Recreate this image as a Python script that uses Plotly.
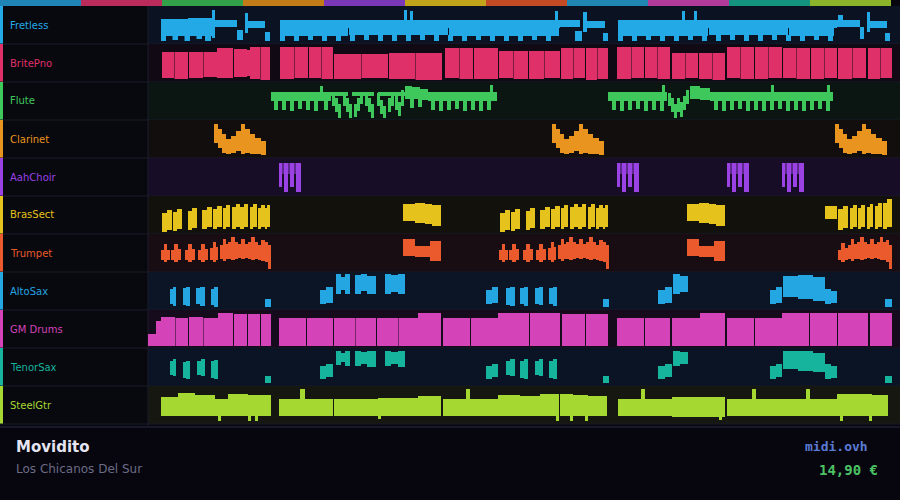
import plotly.graph_objects as go

# ---------------- data ----------------
track_names = ["Fretless", "BritePno", "Flute", "Clarinet", "AahChoir", "BrasSect",
               "Trumpet", "AltoSax", "GM Drums", "TenorSax", "SteelGtr"]
track_colors = ["#22a9e6", "#e0306a", "#3ec85c", "#e8941e", "#9a42e4", "#e6c21c",
                "#ea5a2c", "#24a6e2", "#d444b8", "#16b49c", "#a6d832"]
strip_colors = ["#1f84b6", "#bb2c5c", "#33a04a", "#c47c18", "#7a38b8", "#c2a41a",
                "#c24a24", "#2086b2", "#b23a9a", "#14947e", "#8cb42a"]
row_bg = ["#0b1322", "#110a15", "#0b1512", "#120e0e", "#170d27", "#12110c",
          "#180d13", "#0b1526", "#150b1c", "#0b1424", "#151710"]

song_title = "Movidito"
song_artist = "Los Chicanos Del Sur"
site_name = "midi.ovh"
price_text = "14,90 €"

# time axis (ticks) and per-track pitch range
time_range = [0, 752]
pitch_range = [0, 38]

# notes: (start, end, low pitch, high pitch)
fretless_notes = [
    # intro riff
    (13, 40, 17, 25), (40, 64, 17, 26), (13, 64, 8, 17),
    (13, 18, 3, 8), (24.5, 30, 4, 8), (36.5, 42, 3, 8), (48.5, 54, 5, 8), (57, 63, 3, 8),
    (64, 67, 6, 34), (67, 89, 17, 24), (89, 95, 4, 14),
    (97, 100, 11, 31), (100, 117, 16, 23), (117, 122, 3, 12),
    # verse line
    (132, 256, 16, 24), (256, 259, 16, 34), (259, 262, 16, 24), (262, 265, 16, 33),
    (265, 407, 16, 24), (407, 410, 16, 33), (410, 412, 16, 24),
    (132, 200, 8, 16), (201, 300, 9, 16), (301, 411, 8, 16),
    (132, 137, 3, 8), (146, 151, 3, 8), (160, 165, 4, 8), (174, 179, 3, 8), (188, 193, 3, 9),
    (202, 207, 3, 9), (216, 221, 4, 9), (230, 235, 3, 9), (244, 249, 3, 9), (258, 263, 3, 9),
    (272, 277, 4, 9), (286, 291, 3, 9), (300, 305, 3, 9), (314, 319, 3, 8), (328, 333, 4, 8),
    (342, 347, 3, 8), (356, 361, 3, 8), (370, 375, 3, 8), (384, 389, 4, 8), (398, 403, 3, 8),
    (412, 432, 17, 24), (427, 434, 3, 13), (435, 439, 12, 32), (439, 457, 16, 23), (455, 460, 3, 11),
    # second verse line
    (470, 534, 16, 24), (534, 537, 16, 33), (537, 546, 16, 24), (546, 549, 16, 33), (549, 689, 16, 24),
    (470, 560, 8, 16), (561, 640, 9, 16), (641, 686, 8, 16),
    (470, 475, 3, 8), (484, 489, 3, 8), (498, 503, 4, 8), (512, 517, 3, 8), (526, 531, 3, 8),
    (540, 545, 4, 8), (554, 559, 3, 8), (568, 573, 3, 9), (582, 587, 4, 9), (596, 601, 3, 9),
    (610, 615, 3, 9), (624, 629, 4, 9), (638, 643, 3, 9), (652, 657, 3, 8), (666, 671, 4, 8),
    (680, 685, 3, 8),
    # outro riff
    (689, 712, 17, 24), (690, 695, 19, 29), (712, 716, 5, 17), (719, 722, 12, 32),
    (722, 739, 16, 23), (737, 742, 3, 11),
]

britepno_notes = [
    (14, 26, 4, 30), (26.5, 40, 3, 30), (41, 55, 4, 30), (55.5, 69, 5, 30), (69, 85, 4, 34),
    (86, 99, 5, 33), (99, 102, 6, 32), (102, 112, 3, 35), (112.5, 122, 2, 35),
    (132, 146, 3, 35), (146.5, 160, 4, 35), (161, 173, 4, 35), (173.5, 185, 3, 35),
    (186, 213, 3, 28), (213.5, 240, 4, 28), (241, 267, 3, 29), (267.5, 294, 2, 29),
    (297, 311, 4, 34), (311.5, 325, 3, 34), (326, 350, 3, 34), (351, 365, 4, 31), (365.5, 380, 3, 31),
    (381, 396, 3, 31), (396.5, 412, 4, 31),
    (413, 425, 3, 34), (425.5, 437, 4, 34), (438, 449, 2, 34), (449.5, 460, 3, 34),
    (469, 483, 3, 35), (483.5, 496, 4, 35), (497, 509, 4, 35), (509.5, 522, 3, 35),
    (524, 537, 3, 29), (537.5, 550, 4, 29), (551, 564, 3, 29), (564.5, 577, 2, 29),
    (579, 592, 4, 35), (592.5, 606, 3, 35), (607, 620, 3, 35), (620.5, 634, 4, 35),
    (635, 648, 4, 34), (648.5, 662, 3, 34), (663, 676, 3, 34), (676.5, 689, 4, 34),
    (690, 704, 3, 34), (704.5, 718, 4, 34), (720, 732, 3, 34), (732.5, 744, 4, 34),
]

flute_notes = [
    (123, 183, 19, 28),
    (126, 130, 10, 19), (134, 138, 10, 19), (142, 146, 9, 19), (150, 154, 11, 19),
    (158, 162, 10, 19), (166, 170, 9, 19), (176, 180, 10, 19), (172, 175, 28, 34),
    (183, 200, 24, 28), (204, 226, 24, 28), (230, 257, 24, 28),
    (184, 187, 14, 27), (187, 190, 8, 22), (190, 193, 2, 16), (195, 198, 14, 27),
    (198, 201, 8, 22), (201, 204, 2, 16), (206, 209, 3, 16), (209, 212, 9, 22),
    (212, 215, 16, 27), (217, 220, 14, 27), (220, 223, 8, 22), (223, 226, 2, 16),
    (229, 232, 14, 27), (232, 235, 6, 20), (235, 238, 2, 14), (240, 243, 8, 22),
    (243, 246, 14, 27), (247, 250, 10, 24), (250, 253, 4, 18), (253, 256, 14, 30),
    (257, 264, 21, 34), (264, 272, 21, 33), (272, 280, 20, 31),
    (262, 266, 12, 21), (270, 274, 13, 21),
    (280, 349, 19, 28),
    (283, 287, 10, 19), (291, 295, 9, 19), (299, 303, 10, 19), (307, 311, 11, 19),
    (315, 319, 9, 19), (323, 327, 10, 19), (331, 335, 9, 19), (339, 343, 10, 19),
    (342, 345, 28, 35),
    (460, 519, 19, 28),
    (464, 468, 10, 19), (472, 476, 9, 19), (480, 484, 10, 19), (488, 492, 11, 19),
    (496, 500, 9, 19), (504, 508, 10, 19), (512, 516, 9, 19), (514, 517, 28, 35),
    (520, 523, 14, 27), (523, 526, 8, 22), (526, 529, 2, 16), (529, 532, 8, 22),
    (532, 535, 3, 18), (535, 538, 10, 24), (538, 541, 16, 30),
    (542, 552, 21, 34), (552, 562, 20, 32),
    (562, 685, 19, 28),
    (566, 570, 10, 19), (574, 578, 9, 19), (582, 586, 10, 19), (590, 594, 11, 19),
    (598, 602, 9, 19), (606, 610, 10, 19), (614, 618, 9, 19), (622, 626, 10, 19),
    (630, 634, 11, 19), (638, 642, 9, 19), (646, 650, 10, 19), (654, 658, 9, 19),
    (662, 666, 10, 19), (670, 674, 11, 19), (678, 682, 9, 19),
    (623, 626, 28, 35), (679, 682, 28, 35),
]

clarinet_notes = [
    (66, 70, 15, 34), (70, 74, 10, 29), (74, 78, 5, 24), (78, 83, 4, 19), (83, 88, 5, 22),
    (88, 93, 7, 27), (93, 97, 4, 34), (97, 102, 5, 29), (102, 107, 4, 24), (107, 113, 4, 20),
    (113, 118, 3, 17),
    (404, 408, 15, 34), (408, 412, 10, 29), (412, 416, 5, 24), (416, 421, 4, 19), (421, 426, 5, 22),
    (426, 431, 7, 27), (431, 435, 4, 34), (435, 440, 5, 29), (440, 445, 4, 24), (445, 451, 4, 20),
    (451, 456, 3, 17),
    (687, 691, 15, 34), (691, 695, 10, 29), (695, 699, 5, 24), (699, 704, 4, 19), (704, 709, 5, 22),
    (709, 714, 7, 27), (714, 718, 4, 34), (718, 723, 5, 29), (723, 728, 4, 24), (728, 734, 4, 20),
    (734, 739, 3, 17),
]

aahchoir_notes = [
    (131, 134, 9, 33), (136, 140, 4, 33), (142, 146, 9, 33), (148, 153, 4, 33),
    (469, 472, 9, 33), (474, 478, 4, 33), (480, 484, 9, 33), (486, 491, 4, 33),
    (579, 582, 9, 33), (584, 588, 4, 33), (590, 594, 9, 33), (596, 601, 4, 33),
    (634, 637, 9, 33), (639, 643, 4, 33), (645, 649, 9, 33), (651, 656, 4, 33),
]
aahchoir_soft_notes = [
    (134, 136, 22, 33), (140, 142, 22, 33), (146, 148, 22, 33),
    (472, 474, 22, 33), (478, 480, 22, 33), (484, 486, 22, 33),
    (582, 584, 22, 33), (588, 590, 22, 33), (594, 596, 22, 33),
    (637, 639, 22, 33), (643, 645, 22, 33), (649, 651, 22, 33),
]

brassect_notes = [
    (14, 19, 2, 21), (19, 24, 4, 24), (25, 29, 3, 22), (29, 34, 5, 25), (40, 44, 4, 23), (44, 49, 6, 26),
    (54, 59, 5, 24), (59, 64, 7, 27), (65, 69, 5, 25), (69, 74, 7, 28), (75, 78, 5, 26), (78, 82, 7, 29),
    (84, 88, 5, 27), (88, 92, 7, 30), (92, 96, 5, 27), (96, 100, 7, 30), (102, 105, 5, 27), (105, 109, 7, 30),
    (110, 113, 5, 26), (113, 117, 7, 29), (117, 119, 5, 26), (119, 122, 7, 29),
    (255, 267, 13, 30), (267, 277, 11, 31), (277, 284, 10, 30), (284, 293, 8, 29),
    (352, 357, 2, 21), (357, 362, 4, 24), (363, 367, 3, 22), (367, 372, 5, 25), (378, 382, 4, 23), (382, 387, 6, 26),
    (392, 397, 5, 24), (397, 402, 7, 27), (403, 407, 5, 25), (407, 412, 7, 28), (413, 416, 5, 26), (416, 420, 7, 29),
    (422, 426, 5, 27), (426, 430, 7, 30), (430, 434, 5, 27), (434, 438, 7, 30), (440, 443, 5, 27), (443, 447, 7, 30),
    (448, 451, 5, 26), (451, 455, 7, 29), (455, 457, 5, 26), (457, 460, 7, 29),
    (539, 551, 13, 30), (551, 561, 11, 31), (561, 568, 10, 30), (568, 577, 8, 29),
    (677, 689, 15, 28),
    (690, 695, 4, 25), (695, 700, 6, 28), (702, 705, 5, 26), (705, 709, 7, 29), (710, 713, 5, 26), (713, 717, 7, 29),
    (719, 722, 5, 27), (722, 725, 7, 30), (727, 730, 5, 28), (730, 734, 7, 31), (735, 739, 5, 31), (739, 744, 7, 35),
]

trumpet_notes = [
    (13, 16, 12, 22), (16, 19, 10, 28), (19, 22, 12, 22),
    (23, 26, 12, 22), (26, 30, 10, 28), (30, 33, 12, 23),
    (37, 40, 12, 22), (40, 44, 10, 28), (44, 47, 12, 23),
    (50, 53, 12, 22), (53, 57, 10, 28), (57, 60, 12, 23),
    (62, 65, 12, 24), (65, 68, 10, 30), (68, 70, 12, 25),
    (72, 75, 13, 27), (75, 78, 11, 33), (78, 80, 13, 28),
    (80, 83, 13, 30), (83, 87, 12, 35), (87, 90, 13, 30),
    (90, 93, 14, 28), (93, 97, 13, 33), (97, 100, 14, 28),
    (100, 103, 13, 30), (103, 107, 12, 35), (107, 110, 13, 30),
    (110, 113, 12, 27), (113, 117, 11, 32), (117, 120, 10, 30), (120, 123, 3, 27),
    (255, 267, 16, 33), (267, 282, 15, 26), (282, 293, 11, 31),
    (351, 354, 12, 22), (354, 357, 10, 28), (357, 360, 12, 22),
    (361, 364, 12, 22), (364, 368, 10, 28), (368, 371, 12, 23),
    (375, 378, 12, 22), (378, 382, 10, 28), (382, 385, 12, 23),
    (388, 391, 12, 22), (391, 395, 10, 28), (395, 398, 12, 23),
    (400, 403, 12, 24), (403, 406, 10, 30), (406, 408, 12, 25),
    (410, 413, 13, 27), (413, 416, 11, 33), (416, 418, 13, 28),
    (418, 421, 13, 30), (421, 425, 12, 35), (425, 428, 13, 30),
    (428, 431, 14, 28), (431, 435, 13, 33), (435, 438, 14, 28),
    (438, 441, 13, 30), (441, 445, 12, 35), (445, 448, 13, 30),
    (448, 451, 12, 27), (451, 455, 11, 32), (455, 458, 10, 30), (458, 461, 3, 27),
    (539, 551, 16, 33), (551, 566, 15, 26), (566, 577, 11, 31),
    (690, 693, 12, 22), (693, 697, 10, 29), (697, 700, 12, 24),
    (700, 703, 13, 27), (703, 706, 11, 33), (706, 709, 13, 28),
    (709, 712, 13, 30), (712, 716, 12, 35), (716, 719, 13, 30),
    (719, 722, 14, 28), (722, 726, 13, 33), (726, 729, 14, 28),
    (729, 732, 13, 30), (732, 735, 12, 35),
    (735, 738, 12, 30), (738, 741, 10, 32), (741, 744, 3, 27),
]

altosax_notes = [
    (22, 25, 6, 21), (25, 28, 4, 23), (35, 38, 5, 22), (38, 42, 4, 23),
    (48, 52, 6, 22), (52, 57, 4, 23), (63, 66, 5, 21), (66, 70, 3, 23),
    (117, 123, 3, 11),
    (172, 178, 6, 20), (178, 185, 7, 23),
    (188, 193, 16, 36), (193, 197, 20, 33), (197, 202, 16, 36),
    (207, 213, 16, 35), (213, 219, 19, 36), (219, 228, 16, 34),
    (237, 243, 16, 36), (243, 250, 18, 35), (250, 257, 16, 36),
    (338, 344, 6, 20), (344, 350, 7, 23), (358, 362, 5, 22), (362, 367, 4, 23),
    (372, 376, 6, 22), (376, 380, 4, 23), (387, 391, 6, 22), (391, 395, 5, 23),
    (401, 405, 6, 22), (405, 409, 4, 23),
    (455, 461, 3, 11),
    (510, 517, 6, 20), (517, 524, 7, 23), (525, 532, 16, 36), (532, 540, 18, 34),
    (622, 628, 6, 20), (628, 634, 7, 23),
    (635, 650, 13, 34), (650, 665, 11, 35), (665, 677, 9, 33),
    (677, 683, 6, 21), (683, 689, 7, 19),
    (737, 744, 3, 11),
]

gmdrums_notes = [
    (0, 8, 2, 14), (8, 13, 2, 27), (13, 27, 2, 31), (27.5, 40, 2, 30), (41, 55, 2, 31), (55.5, 70, 2, 30),
    (70, 85, 2, 35), (86, 99, 2, 34), (100, 112, 2, 34), (113, 123, 2, 34),
    (131, 158, 2, 30), (159, 185, 2, 30), (186, 207, 2, 30), (207.5, 228, 2, 30), (229, 250, 2, 30),
    (250.5, 270, 2, 30), (270, 293, 2, 35),
    (295, 322, 2, 30), (323, 350, 2, 30), (350, 381, 2, 35), (382, 412, 2, 35), (414, 437, 2, 34),
    (438, 460, 2, 34),
    (469, 496, 2, 30), (497, 522, 2, 30), (524, 552, 2, 30), (552, 577, 2, 35), (579, 606, 2, 30),
    (607, 634, 2, 30), (634, 661, 2, 35), (662, 689, 2, 35), (690, 720, 2, 35), (722, 744, 2, 35),
]

tenorsax_notes = [
    (22, 25, 11, 25), (25, 28, 10, 27), (35, 38, 8, 24), (38, 42, 7, 25),
    (49, 53, 11, 25), (53, 57, 10, 27), (63, 66, 8, 25), (66, 70, 7, 26),
    (117, 123, 3, 10),
    (172, 178, 7, 20), (178, 185, 9, 22),
    (188, 193, 21, 35), (193, 197, 24, 33), (197, 202, 20, 35),
    (207, 213, 20, 35), (213, 219, 22, 34), (219, 228, 19, 35),
    (237, 243, 20, 35), (243, 250, 22, 34), (250, 257, 19, 35),
    (338, 344, 7, 20), (344, 350, 9, 22), (358, 362, 11, 25), (362, 367, 10, 27),
    (372, 376, 8, 25), (376, 380, 7, 27), (387, 391, 11, 25), (391, 395, 10, 27),
    (401, 405, 8, 25), (405, 409, 7, 27),
    (455, 461, 3, 10),
    (510, 517, 7, 20), (517, 524, 9, 22), (525, 532, 20, 35), (532, 540, 22, 34),
    (622, 628, 7, 20), (628, 634, 9, 22),
    (635, 650, 17, 35), (650, 665, 15, 35), (665, 677, 14, 33),
    (677, 683, 7, 22), (683, 689, 8, 20),
    (737, 744, 3, 10),
]

steelgtr_notes = [
    (13, 30, 8, 27), (30, 47, 8, 31), (47, 67, 8, 29), (67, 70, 8, 25), (70, 73, 3, 25), (73, 80, 8, 25),
    (80, 100, 8, 30), (100, 103, 3, 29), (103, 107, 8, 29), (107, 110, 3, 29), (110, 123, 8, 29),
    (131, 152, 8, 25), (152, 157, 8, 35), (157, 185, 8, 25), (186, 230, 8, 25), (230, 233, 5, 26),
    (233, 270, 8, 26), (270, 293, 8, 28), (295, 318, 8, 25), (318, 322, 8, 35), (322, 350, 8, 25),
    (350, 372, 8, 29), (372, 392, 8, 28), (392, 408, 8, 30), (408, 411, 3, 30), (412, 422, 8, 30),
    (422, 425, 3, 30), (425, 437, 8, 29), (437, 440, 3, 29), (440, 459, 8, 28),
    (470, 493, 8, 25), (493, 497, 8, 35), (497, 524, 8, 25), (524, 571, 7, 27), (571, 574, 4, 27),
    (574, 577, 7, 27), (579, 604, 8, 25), (604, 608, 8, 35), (608, 634, 8, 25), (634, 658, 8, 25),
    (658, 662, 8, 35), (662, 689, 8, 25),
    (689, 692, 8, 30), (692, 695, 3, 30), (695, 721, 8, 30), (721, 724, 3, 30), (724, 740, 8, 29),
]

track_notes = [fretless_notes, britepno_notes, flute_notes, clarinet_notes, aahchoir_notes,
               brassect_notes, trumpet_notes, altosax_notes, gmdrums_notes, tenorsax_notes,
               steelgtr_notes]

# ---------------- layout geometry ----------------
W, H = 900, 500
LABEL_W = 148
ROW_TOP0 = 6
ROW_H = 38
FOOT_TOP = 426
n = len(track_names)


def py(px):
    return 1 - px / H


def px_x(px):
    return px / W


fig = go.Figure()


def add_notes(notes, idx, color, opacity=1.0):
    """Each note is drawn as a filled rectangle on the shared time axis and the track's pitch axis."""
    yname = "y" if idx == 0 else f"y{idx + 1}"
    xs, ys = [], []
    for t0, t1, lo, hi in notes:
        xs += [t0, t1, t1, t0, t0, None]
        ys += [lo, lo, hi, hi, lo, None]
    fig.add_trace(go.Scatter(
        x=xs, y=ys, mode="lines", fill="toself", fillcolor=color,
        line=dict(width=0, color=color), opacity=opacity,
        xaxis="x", yaxis=yname, hoverinfo="skip", showlegend=False,
    ))


for i, notes in enumerate(track_notes):
    add_notes(notes, i, track_colors[i])
    if i == 4:
        add_notes(aahchoir_soft_notes, i, track_colors[i], 0.55)

layout = dict(
    width=W, height=H,
    margin=dict(l=0, r=0, t=0, b=0),
    paper_bgcolor="#07060f", plot_bgcolor="rgba(0,0,0,0)",
    showlegend=False,
    xaxis=dict(domain=[px_x(LABEL_W), 1], range=time_range, visible=False, fixedrange=True),
)
for i in range(n):
    key = "yaxis" if i == 0 else f"yaxis{i + 1}"
    top = ROW_TOP0 + ROW_H * i
    layout[key] = dict(domain=[py(top + ROW_H), py(top)], range=pitch_range,
                       visible=False, fixedrange=True, anchor="x")
fig.update_layout(**layout)

shapes = []
annotations = []
# label panel
shapes.append(dict(type="rect", xref="paper", yref="paper", x0=0, x1=px_x(LABEL_W),
                   y0=py(FOOT_TOP), y1=py(ROW_TOP0), fillcolor="#08080f", line_width=0, layer="below"))
for i in range(n):
    top = ROW_TOP0 + ROW_H * i
    shapes.append(dict(type="rect", xref="paper", yref="paper", x0=px_x(LABEL_W), x1=1,
                       y0=py(top + ROW_H), y1=py(top), fillcolor=row_bg[i], line_width=0, layer="below"))
    shapes.append(dict(type="rect", xref="paper", yref="paper", x0=0, x1=px_x(3),
                       y0=py(top + ROW_H), y1=py(top), fillcolor=track_colors[i], line_width=0, layer="below"))
    shapes.append(dict(type="line", xref="paper", yref="paper", x0=0, x1=1,
                       y0=py(top + ROW_H), y1=py(top + ROW_H), line=dict(color="#1a1a2a", width=1), layer="below"))
    annotations.append(dict(xref="paper", yref="paper", x=px_x(8), y=py(top + ROW_H / 2),
                            text=track_names[i], showarrow=False, xanchor="left", yanchor="middle",
                            font=dict(family="DejaVu Sans", size=10, color=track_colors[i])))
# divider
shapes.append(dict(type="line", xref="paper", yref="paper", x0=px_x(LABEL_W), x1=px_x(LABEL_W),
                   y0=py(FOOT_TOP), y1=py(ROW_TOP0), line=dict(color="#1c1c2c", width=1), layer="below"))
# top strip
seg = 81
for i, c in enumerate(strip_colors):
    shapes.append(dict(type="rect", xref="paper", yref="paper", x0=px_x(seg * i), x1=px_x(seg * (i + 1)),
                       y0=py(6), y1=1, fillcolor=c, line_width=0, layer="below"))
# footer line
shapes.append(dict(type="line", xref="paper", yref="paper", x0=0, x1=1,
                   y0=py(427), y1=py(427), line=dict(color="#2c2a44", width=1), layer="below"))

annotations += [
    dict(xref="paper", yref="paper", x=px_x(14), y=py(447), text=f"<b>{song_title}</b>",
         showarrow=False, xanchor="left", yanchor="middle",
         font=dict(family="DejaVu Sans", size=15, color="#e4e4f2")),
    dict(xref="paper", yref="paper", x=px_x(14), y=py(469), text=song_artist,
         showarrow=False, xanchor="left", yanchor="middle",
         font=dict(family="DejaVu Sans", size=12, color="#6c6c84")),
    dict(xref="paper", yref="paper", x=px_x(870), y=py(446), text=f"<b>{site_name}</b>",
         showarrow=False, xanchor="right", yanchor="middle",
         font=dict(family="DejaVu Sans Mono", size=13, color="#5b7bd5")),
    dict(xref="paper", yref="paper", x=px_x(880), y=py(470), text=f"<b>{price_text}</b>",
         showarrow=False, xanchor="right", yanchor="middle",
         font=dict(family="DejaVu Sans Mono", size=14, color="#4cc264")),
]
fig.update_layout(shapes=shapes, annotations=annotations)

fig.write_html("out.html", config={"displayModeBar": False, "staticPlot": True},
               post_script="document.body.style.margin='0px';document.body.style.overflow='hidden';")
